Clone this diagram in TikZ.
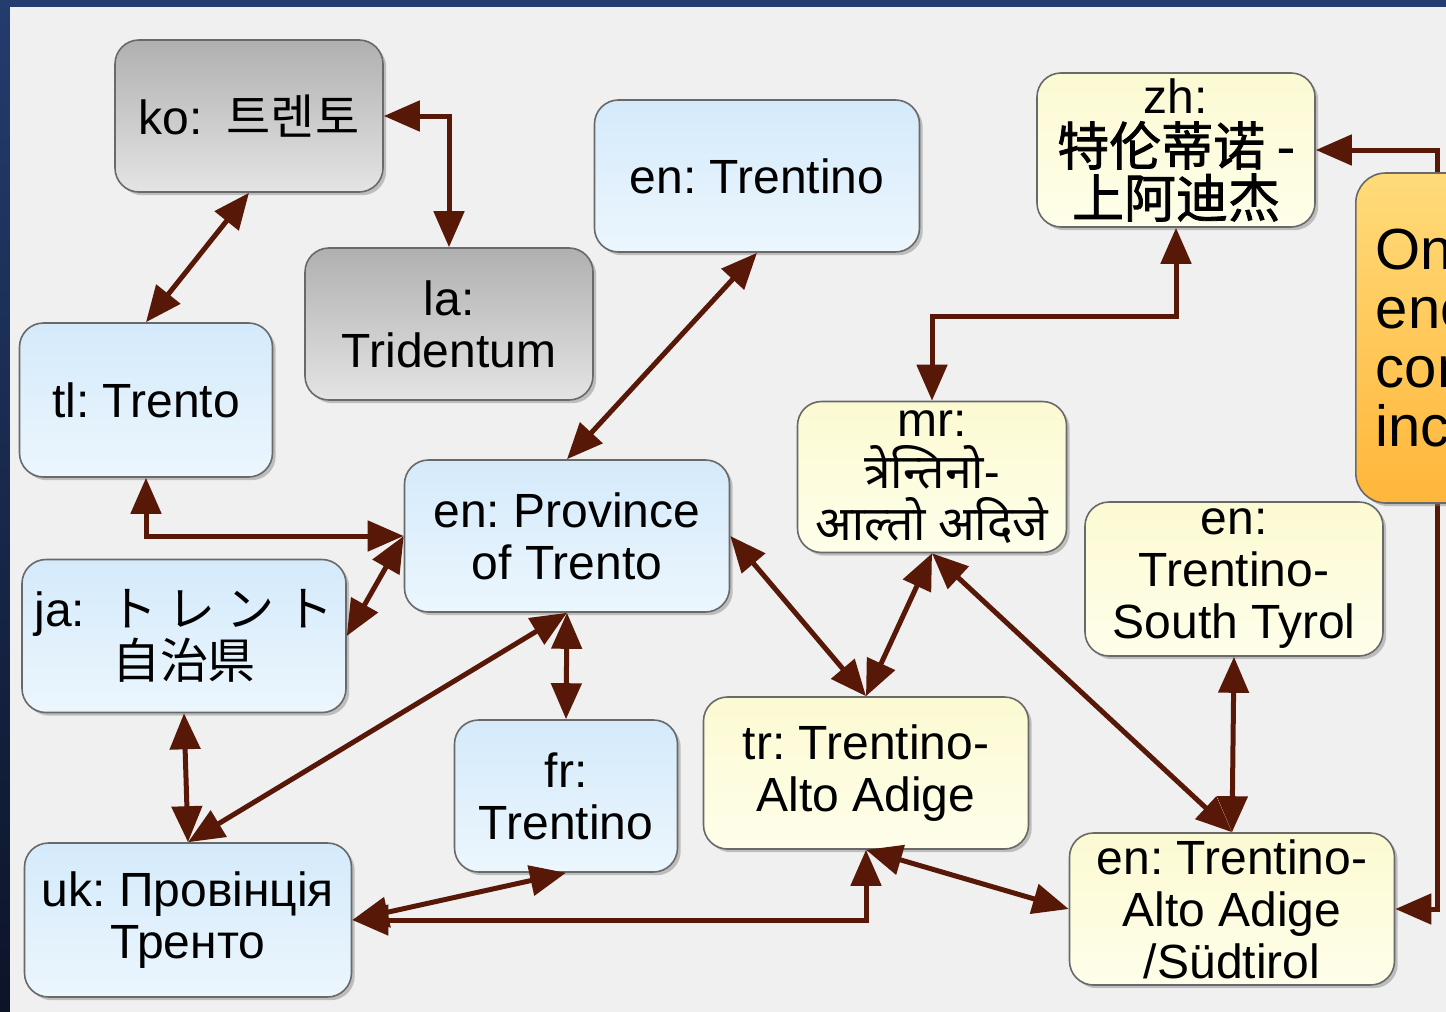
\documentclass[tikz,border=0pt]{standalone}
\usepackage{fontspec}
\setmainfont{Liberation Sans}
\newfontfamily\zhfont[FakeBold=1.5]{Noto Sans CJK SC}
\newfontfamily\jafont{Noto Sans CJK JP}
\newfontfamily\kofont{Noto Sans CJK KR}
\newfontfamily\mrfont[Script=Devanagari]{Noto Sans}
\usetikzlibrary{arrows.meta,shadows}
\frenchspacing

\definecolor{navytop}{RGB}{36,60,110}
\definecolor{navybot}{RGB}{12,20,40}
\definecolor{bggray}{RGB}{240,240,240}
\definecolor{boxline}{RGB}{105,105,105}
\definecolor{bluetop}{RGB}{212,234,251}
\definecolor{bluebot}{RGB}{236,246,253}
\definecolor{yellowtop}{RGB}{252,250,210}
\definecolor{yellowbot}{RGB}{254,254,234}
\definecolor{graytop}{RGB}{176,176,176}
\definecolor{graybot}{RGB}{228,228,228}
\definecolor{notetop}{RGB}{255,219,122}
\definecolor{notebot}{RGB}{255,182,58}
\definecolor{linkbrown}{RGB}{88,24,8}

\newcommand*{\picw}{1446}
\newcommand*{\pich}{1012}

\begin{document}
\begin{tikzpicture}
[
	x=0.5pt, y=-0.5pt,
	>={Triangle[length=18pt,width=15pt]},
	box/.style={draw=boxline, line width=0.8pt, rounded corners=12pt, align=center, inner sep=0pt,
		font=\fontsize{24}{26}\selectfont,
		drop shadow={shadow xshift=1.6pt, shadow yshift=-1.6pt, opacity=0.45}},
	boxsize/.style 2 args={minimum width=#1*0.5pt, minimum height=#2*0.5pt},
	bluebox/.style={box, top color=bluetop, bottom color=bluebot},
	yellowbox/.style={box, top color=yellowtop, bottom color=yellowbot},
	graybox/.style={box, top color=graytop, bottom color=graybot},
	note/.style={draw=boxline, line width=0.8pt, rounded corners=15pt, top color=notetop, bottom color=notebot,
		drop shadow={shadow xshift=1.6pt, shadow yshift=-1.6pt, opacity=0.45},
		align=left, text width=120pt, inner xsep=10pt, minimum height=165pt,
		font=\fontsize{29}{29.5}\selectfont},
	link/.style={<->, draw=linkbrown, line width=2.5pt}
]
	\useasboundingbox (0,0) rectangle (\picw,\pich);

	% background
	\fill[top color=navytop, bottom color=navybot] (0,0) rectangle (\picw,\pich);
	\fill[bggray] (10,7) rectangle (\picw,\pich);

	% names
	\node[graybox, boxsize={268}{152}] (ko) at (249,116) {ko:\hspace{0.5em}{\kofont 트렌토}};
	\node[graybox, boxsize={288}{152}] (la) at (449,324) {la:\\Tridentum};
	\node[bluebox, boxsize={325}{152}] (entn) at (757,176) {en: Trentino};
	\node[yellowbox, boxsize={278}{154}] (zh) at (1176,150) {zh:\\{\zhfont\fontsize{26}{26}\selectfont 特伦蒂诺 -}\\{\zhfont\fontsize{26}{26}\selectfont 上阿迪杰}};
	\node[bluebox, boxsize={253}{154}] (tl) at (146,400) {tl: Trento};
	\node[bluebox, boxsize={325}{152}] (prov) at (567,536) {en: Province\\of Trento};
	\node[yellowbox, boxsize={269}{151}] (mr) at (932,477) {mr:\\{\mrfont त्रेन्तिनो-}\\{\mrfont आल्तो अदिजे}};
	\node[bluebox, boxsize={324}{153}] (ja) at (184,636) {ja:\hspace{0.5em}{\jafont ト レ ン ト}\\{\jafont 自治県}};
	\node[yellowbox, boxsize={298}{154}] (tst) at (1234,579) {en:\\Trentino-\\South Tyrol};
	\node[bluebox, boxsize={223}{152}] (fr) at (566,796) {fr:\\Trentino};
	\node[yellowbox, boxsize={325}{152}] (tr) at (866,773) {tr: Trentino-\\Alto Adige};
	\node[bluebox, boxsize={327}{154}] (uk) at (188,920) {uk: Провінція\\Тренто};
	\node[yellowbox, boxsize={325}{152}] (taa) at (1232,909) {en: Trentino-\\Alto Adige\\/Südtirol};

	% links
	\draw[link] (ko.east) -| (la.north);
	\draw[link] (ko.south) -- (tl.north);
	\draw[link] (entn.south) -- (prov.north);
	\draw[link] (mr.north) -- ++(0,-84) -| (zh.south);
	\draw[link] (zh.east) -- ++(122,0) |- (taa.east);
	\draw[link] (tl.south) |- (prov.west);
	\draw[link] (ja.east) -- (prov.west);
	\draw[link] (prov.south) -- (uk.north);
	\draw[link] (prov.south) -- (fr.north);
	\draw[link] (prov.east) -- (tr.north);
	\draw[link] (mr.south) -- (tr.north);
	\draw[link] (mr.south) -- (taa.north);
	\draw[link] (tst.south) -- (taa.north);
	\draw[link] (ja.south) -- (uk.north);
	\draw[link] (uk.east) -- (fr.south);
	\draw[link] (uk.east) -| (tr.south);
	\draw[link] (tr.south) -- (taa.west);

	% callout, cut by the right edge
	\node[note, anchor=west] (hint) at (1355,338) {On\\enc\\con\\inc};

\end{tikzpicture}
\end{document}
